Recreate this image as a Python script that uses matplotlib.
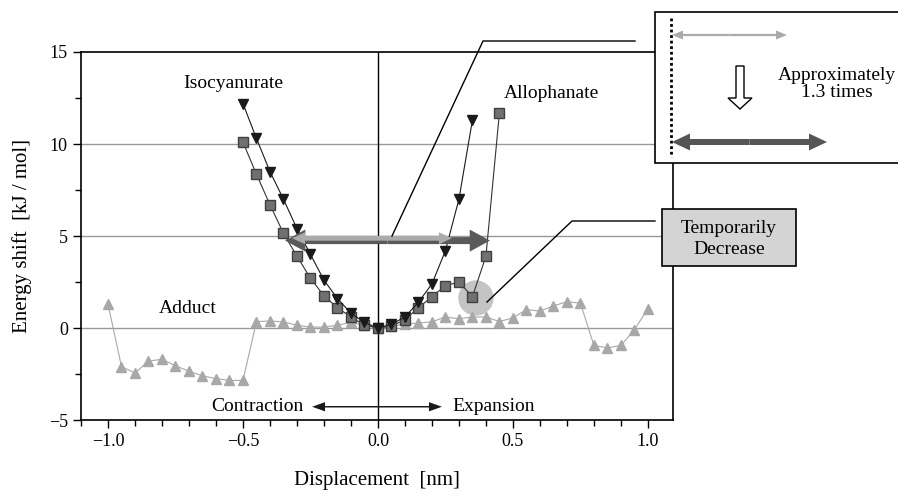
import matplotlib.pyplot as plt
from matplotlib.patches import Rectangle, Ellipse, FancyArrow
from matplotlib.ticker import MultipleLocator

plt.rcParams['font.family'] = ['Liberation Serif', 'DejaVu Serif']

# Isocyanurate (black down triangles)
iso_x = [-0.5, -0.45, -0.4, -0.35, -0.3, -0.25, -0.2, -0.15, -0.1, -0.05, 0.0,
         0.05, 0.1, 0.15, 0.2, 0.25, 0.3, 0.35]
iso_y = [12.2, 10.3, 8.5, 7.0, 5.4, 4.0, 2.6, 1.6, 0.8, 0.3, 0.0,
         0.2, 0.6, 1.4, 2.4, 4.2, 7.0, 11.3]

# Allophanate (gray squares)
allo_x = [-0.5, -0.45, -0.4, -0.35, -0.3, -0.25, -0.2, -0.15, -0.1, -0.05, 0.0,
          0.05, 0.1, 0.15, 0.2, 0.25, 0.3, 0.35, 0.4, 0.45]
allo_y = [10.1, 8.35, 6.7, 5.15, 3.9, 2.7, 1.75, 1.1, 0.6, 0.15, 0.0,
          0.1, 0.45, 1.1, 1.7, 2.3, 2.5, 1.7, 3.9, 11.7]

# Adduct (light gray up triangles)
add_x = [-1.0, -0.95, -0.9, -0.85, -0.8, -0.75, -0.7, -0.65, -0.6, -0.55, -0.5,
         -0.45, -0.4, -0.35, -0.3, -0.25, -0.2, -0.15, -0.1, -0.05, 0.0,
         0.05, 0.1, 0.15, 0.2, 0.25, 0.3, 0.35, 0.4, 0.45, 0.5,
         0.55, 0.6, 0.65, 0.7, 0.75, 0.8, 0.85, 0.9, 0.95, 1.0]
add_y = [1.3, -2.1, -2.45, -1.8, -1.7, -2.05, -2.35, -2.6, -2.75, -2.85, -2.85,
         0.35, 0.38, 0.33, 0.15, 0.05, 0.05, 0.15, 0.3, 0.15, 0.0,
         0.1, 0.2, 0.27, 0.34, 0.6, 0.5, 0.6, 0.6, 0.35, 0.55,
         1.0, 0.92, 1.2, 1.43, 1.35, -0.95, -1.08, -0.95, -0.1, 1.05]

fig = plt.figure(figsize=(8.98, 4.94), dpi=100)
ax = fig.add_axes([81/898, 1-420/494, (673-81)/898, (420-52)/494])
ax.set_xlim(-1.1, 1.093)
ax.set_ylim(-5, 15)

for yv in [0, 5, 10]:
    ax.axhline(yv, color='#999999', lw=1, zorder=1)
ax.axvline(0, color='black', lw=1, zorder=1)

ax.add_patch(Ellipse((0.363, 1.63), 34/270, 34/18.45, color='#c4c4c4', zorder=2))

ax.plot(add_x, add_y, '-^', color='#a8a8a8', lw=0.8, ms=6.5, mec='#a8a8a8', zorder=3)
ax.plot(allo_x, allo_y, '-s', color='#333333', lw=0.8, ms=7.5, mfc='#707070', mec='#404040', zorder=4)
ax.plot(iso_x, iso_y, '-v', color='#1a1a1a', lw=0.8, ms=7, zorder=5)

# 5 kJ/mol arrows
def dbl_arrow(a, x0, x1, y, w, hw, hl, c, z):
    xm = (x0 + x1) / 2
    a.add_patch(FancyArrow(xm, y, x1 - xm, 0, width=w, head_width=hw, head_length=hl,
                           length_includes_head=True, color=c, lw=0, zorder=z))
    a.add_patch(FancyArrow(xm, y, x0 - xm, 0, width=w, head_width=hw, head_length=hl,
                           length_includes_head=True, color=c, lw=0, zorder=z))

dbl_arrow(ax, -0.344, 0.415, 4.75, 0.38, 1.2, 0.075, '#5a5a5a', 6)
dbl_arrow(ax, -0.318, 0.274, 4.88, 0.27, 0.65, 0.048, '#ababab', 7)
dbl_arrow(ax, -0.244, 0.237, -4.28, 0.08, 0.5, 0.048, '#1a1a1a', 6)

ax.text(-0.274, -4.28, 'Contraction', ha='right', va='center', fontsize=14)
ax.text(0.274, -4.28, 'Expansion', ha='left', va='center', fontsize=14)
ax.text(-0.537, 13.28, 'Isocyanurate', ha='center', va='center', fontsize=14)
ax.text(0.641, 12.74, 'Allophanate', ha='center', va='center', fontsize=14)
ax.text(-0.704, 1.08, 'Adduct', ha='center', va='center', fontsize=14)

ax.xaxis.set_major_locator(MultipleLocator(0.5))
ax.xaxis.set_minor_locator(MultipleLocator(0.1))
ax.yaxis.set_major_locator(MultipleLocator(5))
ax.yaxis.set_minor_locator(MultipleLocator(2.5))
ax.xaxis.set_major_formatter(plt.FuncFormatter(lambda v, p: ('%.1f' % v).replace('-', '\u2212')))
ax.tick_params(which='major', direction='out', length=6, width=1, labelsize=13)
ax.tick_params(which='minor', direction='out', length=4, width=1)
for s in ax.spines.values():
    s.set_linewidth(1.2)

ax.set_xlabel('Displacement  [nm]', fontsize=15, labelpad=15)
ax.set_ylabel('Energy shift  [kJ / mol]', fontsize=15, labelpad=12)

# overlay in pixel coordinates for callouts and boxes
ov = fig.add_axes([0, 0, 1, 1], zorder=10)
ov.set_xlim(0, 898)
ov.set_ylim(494, 0)
ov.axis('off')
ov.patch.set_alpha(0)

ov.plot([392, 483, 635], [236, 41, 41], color='black', lw=1)
ov.plot([487, 572, 655], [302, 221, 221], color='black', lw=1)

ov.add_patch(Rectangle((655, 12), 260, 151, fc='white', ec='black', lw=1.2))
ov.plot([671, 671], [18, 157], color='black', lw=2, ls=(0, (1, 1)))
dbl_arrow(ov, 672, 787, 35, 2.2, 9, 11, '#aaaaaa', 3)
dbl_arrow(ov, 672, 827, 142, 6, 17, 18, '#555555', 3)
ov.add_patch(FancyArrow(740, 66, 0, 43, width=8, head_width=24, head_length=11,
                        length_includes_head=True, fc='white', ec='black', lw=1))
ov.text(837, 84, 'Approximately\n1.3 times', ha='center', va='center', fontsize=14,
        linespacing=1.05)

ov.add_patch(Rectangle((662, 209), 134, 57, fc='#d4d4d4', ec='black', lw=1.2))
ov.text(729, 239, 'Temporarily\nDecrease', ha='center', va='center', fontsize=14,
        linespacing=1.3)

fig.savefig('out.png', dpi=100)
